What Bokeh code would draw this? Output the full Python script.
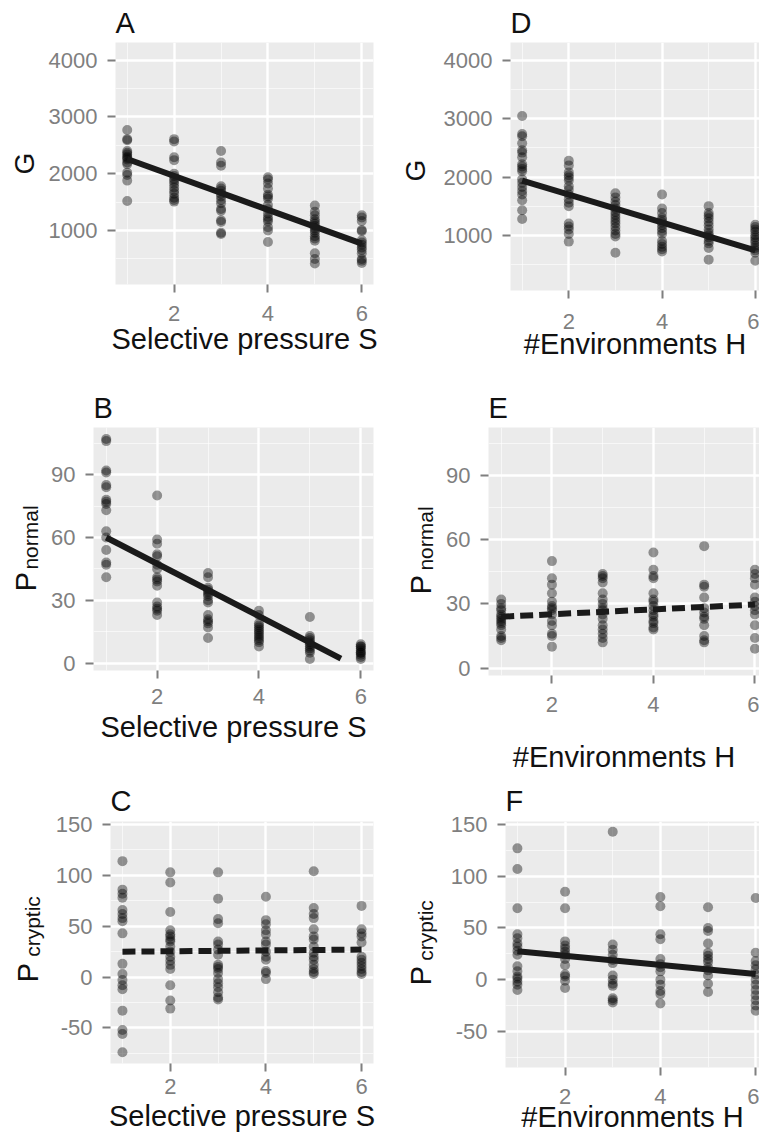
from bokeh.plotting import figure
from bokeh.layouts import column, row
from bokeh.models import FixedTicker, Range1d
from bokeh.embed import file_html
from bokeh.resources import INLINE

# ---------------- data ----------------
levels = [1, 2, 3, 4, 5, 6]

# Panel A: G vs selective pressure S
G_by_S = [
    [2770, 2610, 2590, 2400, 2370, 2340, 2300, 2280, 2250, 2200, 2170, 2020, 1980, 1880, 1520],
    [2610, 2570, 2290, 2240, 2000, 1960, 1910, 1870, 1820, 1760, 1700, 1650, 1580, 1540, 1510],
    [2400, 2200, 2140, 1780, 1740, 1700, 1650, 1600, 1540, 1480, 1380, 1350, 1180, 1150, 960, 940],
    [1940, 1900, 1830, 1740, 1630, 1600, 1560, 1450, 1380, 1300, 1240, 1200, 1160, 1060, 1000, 800],
    [1440, 1330, 1270, 1200, 1160, 1120, 1080, 1040, 1000, 960, 900, 860, 820, 600, 500, 420],
    [1270, 1230, 1170, 1010, 990, 830, 790, 750, 700, 660, 600, 500, 470, 430],
]
# Panel B: P_normal vs S
Pn_by_S = [
    [107, 106, 92, 91, 85, 84, 78, 77, 76, 73, 63, 60, 54, 48, 47, 41],
    [80, 59, 57, 52, 51, 47, 45, 41, 40, 39, 37, 29, 27, 26, 25, 23],
    [43, 41, 36, 35, 34, 33, 32, 30, 29, 23, 21, 20, 19, 17, 12],
    [25, 23, 19, 18, 17, 16, 15, 14, 13, 12, 11, 10, 8],
    [22, 13, 12, 11, 10, 9, 8, 7, 6, 5, 2],
    [9, 8, 8, 7, 6, 5, 5, 4, 3, 2],
]
# Panel C: P_cryptic vs S
Pc_by_S = [
    [114, 86, 82, 78, 66, 62, 58, 55, 43, 13, 3, -3, -8, -12, -33, -52, -56, -74],
    [103, 93, 64, 46, 42, 40, 37, 35, 30, 25, 20, 16, 12, 8, -8, -23, -31],
    [103, 77, 57, 53, 35, 32, 27, 22, 12, 10, 8, 4, -2, -6, -10, -15, -20, -22],
    [79, 56, 52, 46, 42, 35, 32, 25, 20, 17, 6, 4, -2],
    [104, 68, 62, 58, 47, 40, 37, 30, 24, 20, 17, 12, 8, 5, 3],
    [70, 47, 43, 40, 34, 20, 17, 14, 11, 8, 5, 3],
]
# Panel D: G vs number of environments H
G_by_H = [
    [3050, 2740, 2700, 2580, 2460, 2420, 2340, 2220, 2180, 2140, 2100, 1960, 1900, 1830, 1760, 1700, 1600, 1430, 1280],
    [2280, 2200, 2080, 2030, 1990, 1940, 1840, 1780, 1700, 1620, 1560, 1500, 1200, 1150, 1100, 1020, 890],
    [1720, 1650, 1580, 1520, 1460, 1400, 1350, 1300, 1250, 1200, 1140, 1080, 1020, 980, 700],
    [1700, 1460, 1380, 1300, 1260, 1220, 1170, 1120, 1070, 1020, 900, 850, 800, 760, 720],
    [1500, 1380, 1340, 1290, 1230, 1170, 1100, 1040, 1000, 960, 900, 860, 780, 580],
    [1180, 1140, 1100, 1060, 1000, 960, 920, 880, 820, 780, 740, 700, 560],
]
# Panel E: P_normal vs H
Pn_by_H = [
    [32, 30, 28, 27, 25, 24, 23, 22, 21, 20, 18, 15, 14, 13],
    [50, 42, 39, 35, 31, 29, 28, 27, 25, 22, 20, 16, 15, 10],
    [44, 43, 42, 40, 35, 32, 30, 28, 27, 25, 23, 20, 18, 16, 14, 12],
    [54, 46, 43, 42, 35, 32, 31, 29, 27, 25, 24, 22, 21, 19, 18],
    [57, 39, 38, 33, 28, 26, 24, 23, 20, 15, 13, 12],
    [46, 44, 42, 39, 33, 31, 29, 27, 25, 20, 14, 9],
]
# Panel F: P_cryptic vs H
Pc_by_H = [
    [127, 107, 69, 44, 40, 35, 32, 28, 24, 13, 8, 3, 1, -2, -5, -10],
    [85, 69, 37, 33, 30, 27, 24, 20, 14, 5, 3, -1, -8],
    [143, 34, 29, 24, 19, 16, 4, 0, -4, -6, -18, -20, -22],
    [80, 71, 44, 39, 20, 15, 12, 8, 0, -5, -11, -14, -23],
    [70, 50, 47, 35, 26, 23, 20, 17, 12, 9, 4, -4, -12],
    [79, 26, 18, 14, 10, 5, 0, -5, -10, -15, -20, -25, -30],
]

# fitted regression lines (end points)
fitA_x, fitA_y = [1, 6], [2260, 770]
fitB_x, fitB_y = [1, 5.61], [60, 2.2]
fitC_x, fitC_y = [1, 6], [25, 27]
fitD_x, fitD_y = [1, 6], [1940, 740]
fitE_x, fitE_y = [1, 6], [24, 29.7]
fitF_x, fitF_y = [1, 6], [27.5, 5.5]

x_ticks = [2, 4, 6]
x_minor = [1, 3, 5]
G_ticks = [1000, 2000, 3000, 4000]
G_minor = [500, 1500, 2500, 3500]
Pn_ticks = [0, 30, 60, 90]
Pn_minor = [15, 45, 75, 105]
Pc_ticks = [-50, 0, 50, 100, 150]
Pc_minor = [-75, -25, 25, 75, 125]

FONT = "Liberation Sans"
GREY = "#7f7f7f"
INK = "#111111"


def panel(letter, groups, fit_x, fit_y, dashed, xlab, yticks, yminor, yrange, xrange,
          W, H, bl, br, bt, bb, title_standoff=7, xl_standoff=8, xa_standoff=0):
    p = figure(width=W, height=H, x_range=Range1d(*xrange), y_range=Range1d(*yrange),
               output_backend="svg", toolbar_location=None,
               min_border_left=bl, min_border_right=br, min_border_top=bt, min_border_bottom=bb)
    p.background_fill_color = "#EBEBEB"
    p.border_fill_color = "white"
    p.outline_line_color = None

    xt = FixedTicker(ticks=x_ticks, minor_ticks=x_minor)
    yt = FixedTicker(ticks=yticks, minor_ticks=yminor)
    p.xaxis.ticker = xt
    p.yaxis.ticker = yt
    p.xgrid.ticker = xt
    p.ygrid.ticker = yt
    for g in (p.xgrid, p.ygrid):
        g.grid_line_color = "white"
        g.grid_line_width = 2.4
        g.minor_grid_line_color = "white"
        g.minor_grid_line_alpha = 0.6
        g.minor_grid_line_width = 1
    p.xaxis.major_label_overrides = {t: str(t) for t in x_ticks}
    p.yaxis.major_label_overrides = {t: str(t) for t in yticks}
    for ax in (p.xaxis, p.yaxis):
        ax.axis_line_color = None
        ax.major_tick_line_color = GREY
        ax.major_tick_line_width = 2
        ax.major_tick_out = 8
        ax.major_tick_in = 0
        ax.minor_tick_line_color = None
        ax.major_label_text_font = FONT
        ax.major_label_text_font_size = "22px"
        ax.major_label_text_color = GREY
    p.yaxis.major_label_standoff = 10
    p.xaxis.major_label_standoff = xl_standoff

    p.xaxis.axis_label = xlab
    p.xaxis.axis_label_text_font = FONT
    p.xaxis.axis_label_text_font_size = "29px"
    p.xaxis.axis_label_text_font_style = "normal"
    p.xaxis.axis_label_text_color = INK
    p.xaxis.axis_label_standoff = xa_standoff

    p.title.text = letter
    p.title.text_font = FONT
    p.title.text_font_size = "29px"
    p.title.text_font_style = "normal"
    p.title.text_color = INK
    p.title.align = "left"
    p.title.standoff = title_standoff

    for lv, vals in zip(levels, groups):
        p.scatter([lv] * len(vals), vals, size=10, fill_color="black", fill_alpha=0.4,
                  line_color=None)
    p.line(fit_x, fit_y, line_width=6, line_color="#1a1a1a",
           line_dash="13 6" if dashed else "solid")
    return p


def tstrip(W, H, txt, size, baseline_x, cy, bt=0, bb=0):
    """A blank strip whose only content is one vertical (rotated) text, drawn as the
    single tick label of a hidden y axis. baseline_x / cy are pixels in the strip
    (cy measured from the strip's top); bt/bb are the frame's top/bottom borders."""
    desc = round(0.21 * size)
    L = int(baseline_x + desc)
    s = figure(width=W, height=H, x_range=Range1d(0, 1), y_range=Range1d(bb, H - bt),
               output_backend="svg", toolbar_location=None,
               min_border_left=L, min_border_right=0, min_border_top=bt, min_border_bottom=bb,
               x_axis_type=None)
    s.outline_line_color = None
    s.background_fill_color = "white"
    s.border_fill_color = "white"
    s.ygrid.grid_line_color = None
    ax = s.yaxis[0]
    tick = H - cy
    ax.ticker = FixedTicker(ticks=[tick], minor_ticks=[])
    ax.major_label_overrides = {tick: txt}
    ax.major_label_orientation = "vertical"
    ax.axis_line_color = None
    ax.major_tick_line_color = None
    ax.minor_tick_line_color = None
    ax.major_tick_out = 0
    ax.major_tick_in = 0
    ax.major_label_standoff = 0
    ax.major_label_text_font = FONT
    ax.major_label_text_font_size = f"{size}px"
    ax.major_label_text_color = INK
    return s


def sub_title(W, H, main, sub, bx, split, c_sub, c_main):
    top = tstrip(W, split, sub, 21, bx + 2, c_sub)
    bot = tstrip(W, H - split, main, 29, bx, c_main - split)
    return column(top, bot)


XS = "Selective pressure S"
XH = "#Environments H"
LW, RW = 45, 60          # widths of the y-title strips (left / right column)
H1, H2 = 380, 396        # row heights
H3 = 1135 - H1 - H2

# row 1
sA = tstrip(LW, H1, "G", 28, 33, 163, 42, 96)
pA = panel("A", G_by_S, fitA_x, fitA_y, False, XS, G_ticks, G_minor, (50, 4312), (0.75, 6.25),
           380 - LW, H1, 115 - LW, 7, 42, 96, title_standoff=7, xl_standoff=13, xa_standoff=-1)
sD = tstrip(RW, H1, "G", 28, 44, 170, 42, 90)
pD = panel("D", G_by_H, fitD_x, fitD_y, False, XH, G_ticks, G_minor, (50, 4312), (0.75, 6.09),
           379 - RW, H1, 129 - RW, 0, 42, 90, title_standoff=7, xl_standoff=15, xa_standoff=-4)

# row 2
sB = sub_title(LW, H2, "P", "normal", 35, 190, 157, 201)
pB = panel("B", Pn_by_S, fitB_x, fitB_y, False, XS, Pn_ticks, Pn_minor, (-3.5, 112.5), (0.75, 6.25),
           380 - LW, H2, 93 - LW, 7, 47, H2 - 290, title_standoff=7, xl_standoff=10, xa_standoff=4)
sE = sub_title(RW, H2, "P", "normal", 50, 192, 158, 204)
pE = panel("E", Pn_by_H, fitE_x, fitE_y, True, XH, Pn_ticks, Pn_minor, (-3.5, 112.5), (0.75, 6.09),
           379 - RW, H2, 108 - RW, 0, 47, H2 - 295, title_standoff=7, xl_standoff=13, xa_standoff=26)

# row 3 (starts at y = H1 + H2)
r3 = H1 + H2
sC = sub_title(LW, H3, "P", "cryptic", 37, 960 - r3, 926 - r3, 972 - r3)
pC = panel("C", Pc_by_S, fitC_x, fitC_y, True, XS, Pc_ticks, Pc_minor, (-85, 153), (0.75, 6.25),
           380 - LW, H3, 110 - LW, 7, 821 - r3, 1135 - 1063, title_standoff=10, xl_standoff=7,
           xa_standoff=3)
sF = sub_title(RW, H3, "P", "cryptic", 50, 962 - r3, 930 - r3, 975 - r3)
pF = panel("F", Pc_by_H, fitF_x, fitF_y, False, XH, Pc_ticks, Pc_minor, (-85, 153), (0.75, 6.08),
           379 - RW, H3, 125 - RW, 0, 821 - r3, 1135 - 1068, title_standoff=10, xl_standoff=13,
           xa_standoff=-6)

layout = column(
    row(column(sA), column(pA), column(sD), column(pD)),
    row(sB, column(pB), sE, column(pE)),
    row(sC, column(pC), sF, column(pF)),
)
open("out.html", "w").write(file_html(layout, INLINE))
